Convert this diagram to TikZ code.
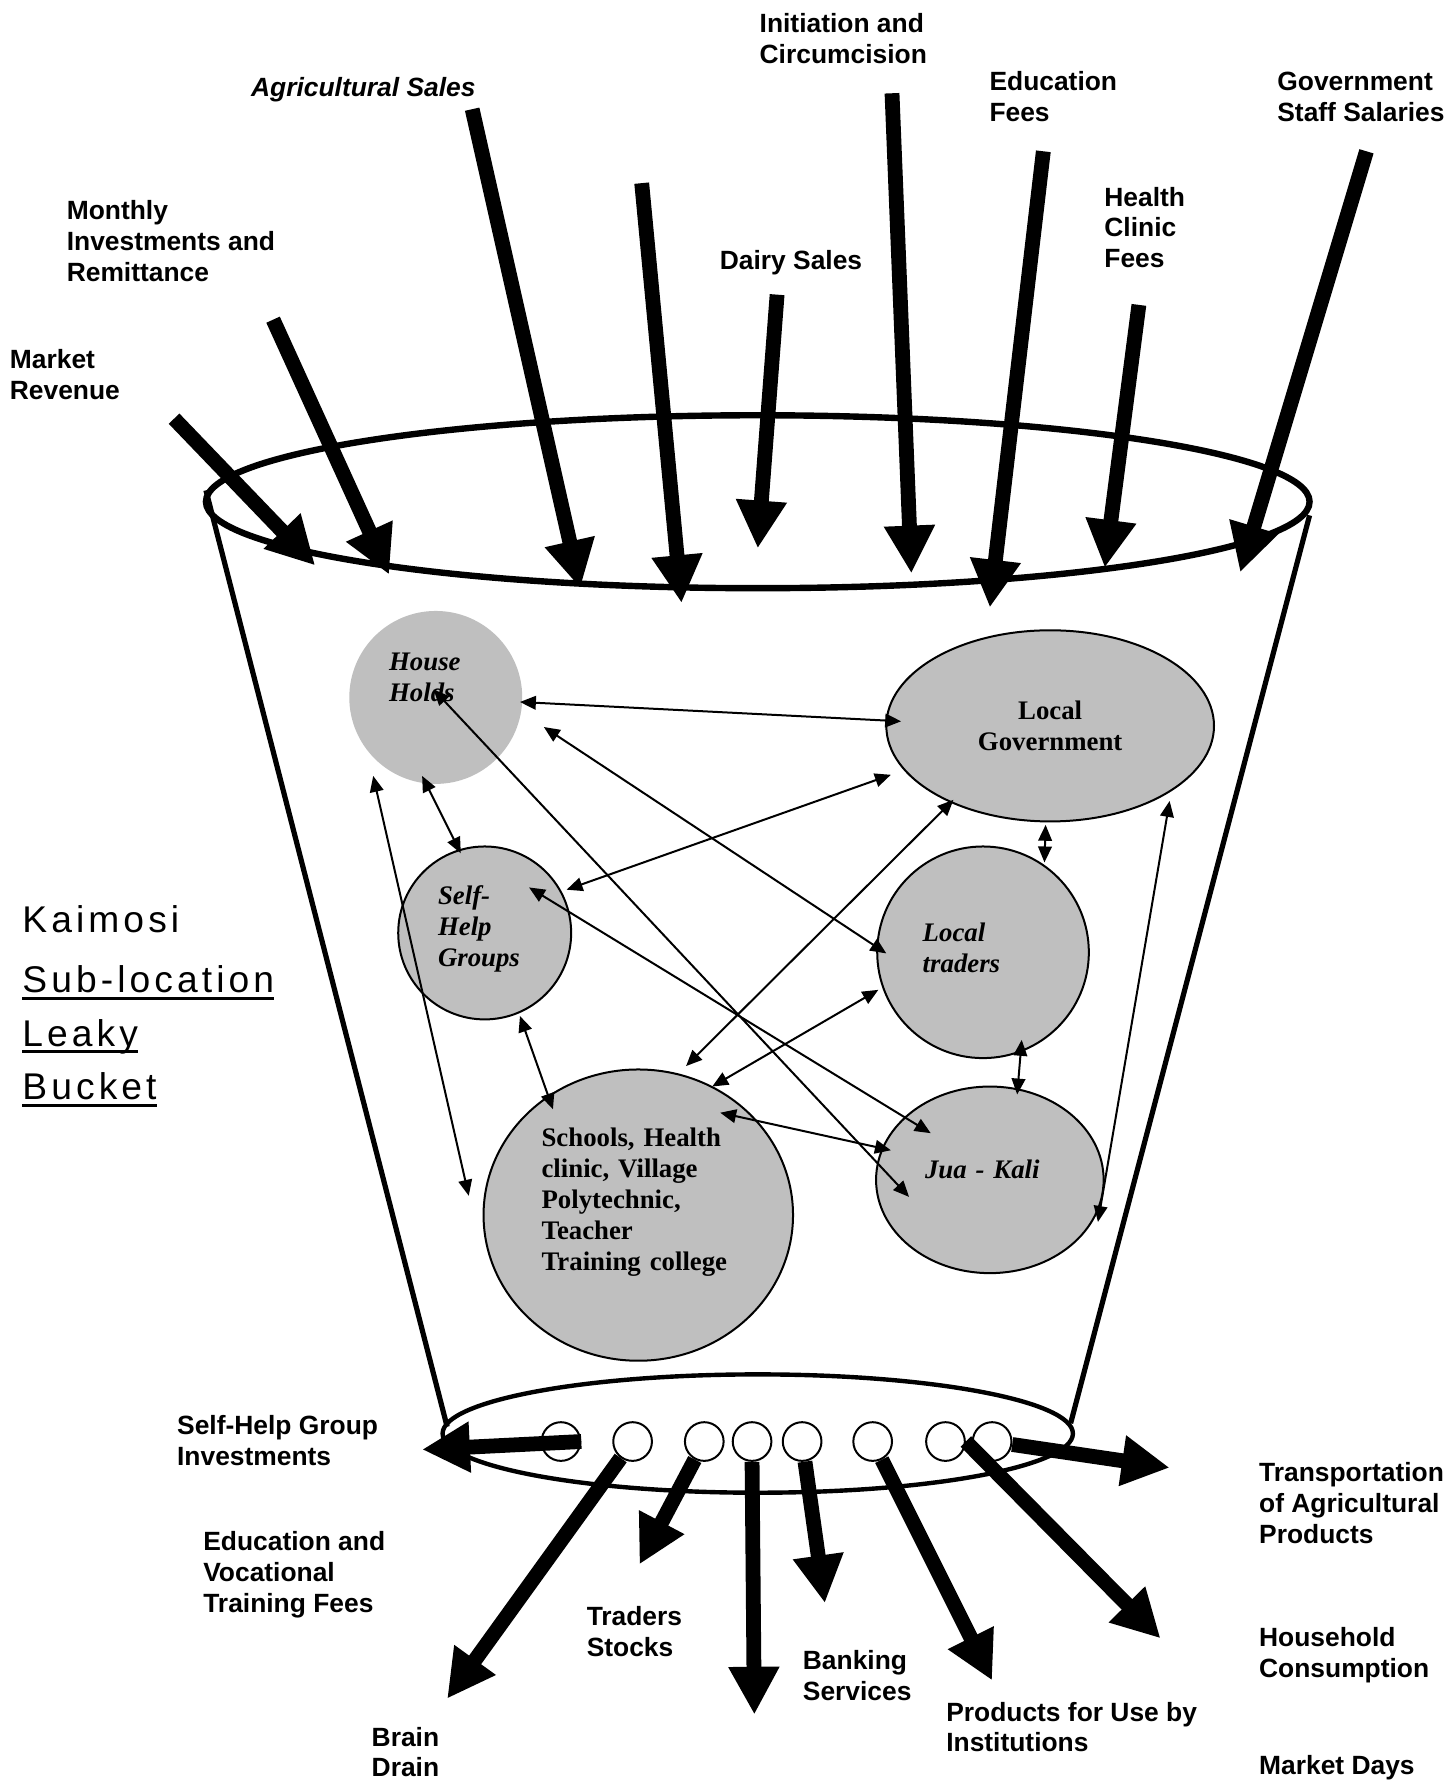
\documentclass[tikz,border=0pt]{standalone}
\usepackage{fontspec}
\setmainfont{Liberation Sans}
\newfontfamily\nodefont{Liberation Serif}
\newfontfamily\titlefont[LetterSpace=11]{Liberation Sans}
\usepackage{tikz}
\usetikzlibrary{arrows.meta,shapes.geometric,calc}

\newsavebox{\ulbox}
\newcommand{\ulword}[1]{\sbox{\ulbox}{#1}\rlap{\rule[-1.8pt]{\wd\ulbox}{0.8pt}}\usebox{\ulbox}}
% extra depth under the last line, so the text sits higher in its blob
\newcommand{\lift}[1]{\rule[-#1]{0pt}{#1}}

\tikzset{
  inflow/.style={line width=3.7pt, -{Triangle[length=0.42cm,width=0.42cm]}},
  link/.style={line width=0.5pt, {Triangle[length=0.14cm,width=0.12cm]}-{Triangle[length=0.14cm,width=0.12cm]}},
  blob/.style={draw, line width=0.5pt, fill=gray!50, inner sep=0pt, align=left,
    font=\nodefont\bfseries\itshape\fontsize{6.7}{7.7}\selectfont},
  upright/.style={font=\nodefont\bfseries\fontsize{6.7}{7.7}\selectfont},
  lbl/.style={anchor=west, inner sep=0pt, align=left, font=\bfseries\fontsize{6.6}{7.7}\selectfont},
  hole/.style={draw, circle, fill=white, line width=0.5pt, minimum size=0.34cm, inner sep=0pt},
}

\begin{document}
\begin{tikzpicture}
\useasboundingbox (0,0) rectangle (12.77,15.68);

% Bucket
\draw[line width=1.3pt] (1.81,11.37) -- (3.93,3.14);
\draw[line width=1.3pt] (11.51,11.15) -- (9.41,3.17);
\draw[line width=1.6pt] (6.66,11.27) ellipse (4.85 and 0.76);
\draw[line width=1.1pt] (6.66,3.08) ellipse (2.77 and 0.52);

% Title
\node[anchor=north west, inner sep=0pt, align=left, font=\titlefont\fontsize{9.3}{13.4}\selectfont] (title) at (0.19,7.73)
  {Kaimosi\\[0.06cm]\ulword{Sub-location}\\\ulword{Leaky}\\\ulword{Bucket}};

% Actors inside the bucket
\node[blob, circle, draw=none, minimum size=1.52cm, text width=0.82cm] (hh) at (3.83,9.55) {House\\Holds\lift{0.36cm}};
\node[blob, ellipse, upright, align=center, minimum width=2.88cm, minimum height=1.68cm] (lg) at (9.23,9.30) {Local\\Government};
\node[blob, circle, minimum size=1.52cm, text width=0.82cm] (sh) at (4.26,7.48) {Self-\\Help\\Groups\lift{0.12cm}};
\node[blob, circle, minimum size=1.86cm, text width=1.06cm] (lt) at (8.64,7.31) {Local\\traders\lift{0.08cm}};
\node[blob, ellipse, minimum width=2.0cm, minimum height=1.64cm, text width=1.14cm] (jk) at (8.70,5.31) {Jua - Kali\lift{0.18cm}};
\node[blob, ellipse, upright, minimum width=2.72cm, minimum height=2.56cm, text width=1.7cm] (sc) at (5.61,5.00)
  {Schools, Health\\clinic, Village\\Polytechnic,\\Teacher\\Training college\lift{0.28cm}};

% Links between actors
\foreach \a/\p/\b/\q in {
    hh/{0.74,-0.04}/lg/{-1.31,0.04},
    hh/{0.95,-0.26}/lt/{-0.85,-0.01},
    hh/{-0.12,-0.69}/sh/{-0.21,0.70},
    hh/{-0.02,0.07}/jk/{-0.71,-0.15},
    hh/{-0.55,-0.69}/sc/{-1.49,0.17},
    sh/{0.72,0.38}/lg/{-1.40,-0.43},
    sh/{0.39,0.40}/jk/{-0.52,0.41},
    sh/{0.31,-0.73}/sc/{-0.75,0.93},
    lg/{-0.85,-0.65}/sc/{0.42,1.31},
    lt/{-0.92,-0.33}/sc/{0.65,1.13},
    sc/{0.72,0.90}/jk/{-0.87,0.26},
    lg/{-0.04,-0.87}/lt/{0.54,0.79},
    lt/{0.34,-0.77}/jk/{0.24,0.75},
    lg/{1.05,-0.66}/jk/{0.95,-0.37}} {
    \draw[link] ($(\a)+(\p)$) -- ($(\b)+(\q)$);
}

% Money flowing in
\foreach \n/\s/\t in {
    mrv/{1.53,12.00}/{2.77,10.71},
    mip/{2.40,12.87}/{3.42,10.63},
    ags/{4.15,14.72}/{5.10,10.51},
    unl/{5.64,14.07}/{5.99,10.38},
    dsl/{6.83,13.09}/{6.66,10.86},
    icc/{7.84,14.86}/{8.01,10.64},
    edf/{9.17,14.35}/{8.70,10.34},
    hcf/{10.01,13.00}/{9.71,10.69},
    gss/{12.01,14.35}/{10.90,10.65}} {
    \coordinate (\n0) at (\s);
    \coordinate (\n1) at (\t);
    \draw[inflow] (\n0) -- (\n1);
}

\node[lbl] (mrvL) at (0.08,12.39) {Market\\Revenue};
\node[lbl] (mipL) at (0.58,13.56) {Monthly\\Investments and\\Remittance};
\node[lbl, font=\bfseries\itshape\fontsize{6.6}{7.7}\selectfont] (agsL) at (2.20,14.89) {Agricultural Sales};
\node[lbl] (dslL) at (6.32,13.37) {Dairy Sales};
\node[lbl] (iccL) at (6.67,15.34) {Initiation and\\Circumcision};
\node[lbl] (edfL) at (8.69,14.83) {Education\\Fees};
\node[lbl] (hcfL) at (9.70,13.68) {Health\\Clinic\\Fees};
\node[lbl] (gssL) at (11.22,14.83) {Government\\Staff Salaries};

% Leaks at the bottom
\foreach \i/\x in {1/4.93,2/5.56,3/6.19,4/6.61,5/7.05,6/7.67,7/8.31,8/8.72}
  \node[hole] (h\i) at (\x,3.01) {};

\foreach \h/\n/\t in {
    h1.east/sgi/{3.71,2.94},
    h2/brd/{3.93,0.75},
    h3/trs/{5.62,1.93},
    h4.south/mid/{6.63,0.61},
    h5/bnk/{7.25,1.59},
    h6/pfi/{8.72,0.91},
    h7.east/hcn/{10.20,1.28},
    h8/tap/{10.28,2.78}} {
    \coordinate (\n) at (\t);
    \draw[inflow] (\h) -- (\n);
}

\node[lbl] (sgiL) at (1.55,3.02) {Self-Help Group\\Investments};
\node[lbl] (evtL) at (1.78,1.84) {Education and\\Vocational\\Training Fees};
\node[lbl] (brdL) at (3.26,0.28) {Brain\\Drain};
\node[lbl] (trsL) at (5.15,1.34) {Traders\\Stocks};
\node[lbl] (bnkL) at (7.05,0.95) {Banking\\Services};
\node[lbl] (pfiL) at (8.31,0.50) {Products for Use by\\Institutions};
\node[lbl] (tapL) at (11.06,2.47) {Transportation\\of Agricultural\\Products};
\node[lbl] (hcnL) at (11.06,1.13) {Household\\Consumption};
\node[lbl] (mdyL) at (11.06,0.14) {Market Days};
\end{tikzpicture}
\end{document}
